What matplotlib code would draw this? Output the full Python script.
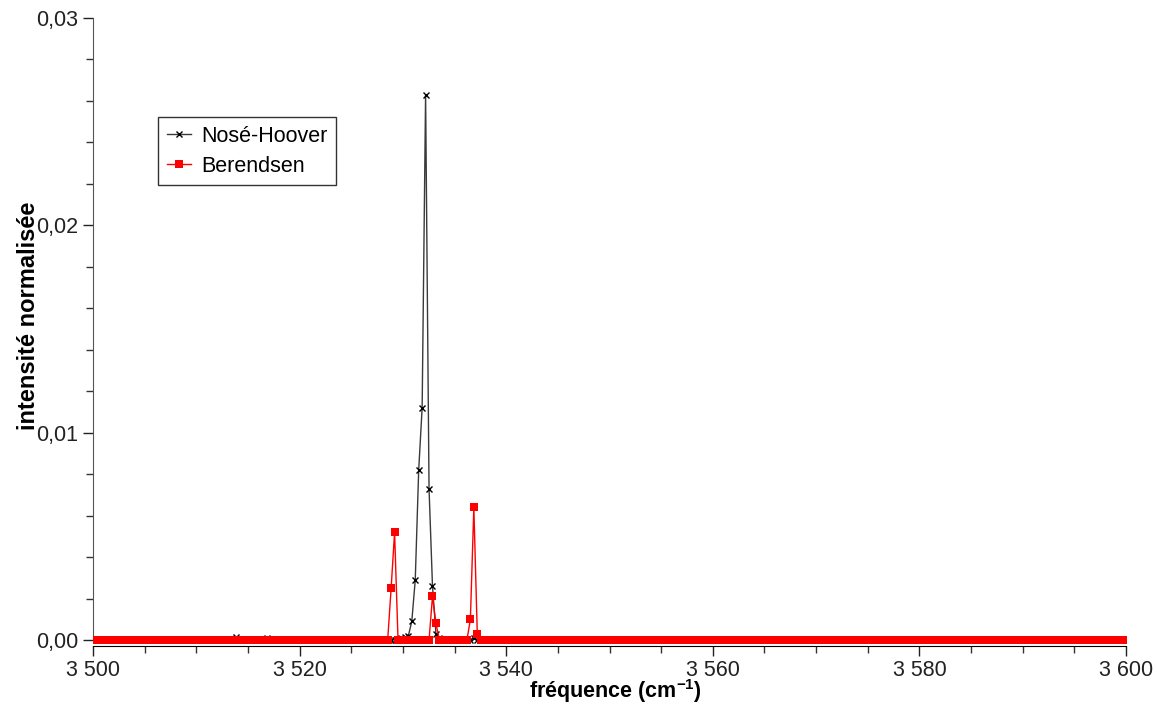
import matplotlib
matplotlib.use("Agg")
import matplotlib.pyplot as plt
import numpy as np
from matplotlib.ticker import FuncFormatter, MultipleLocator

# spectrum sampling (cm-1): regular FFT grid, 300 points
F_START = 3500.17
F_STEP = 0.3336
N_POINTS = 300

# Nosé-Hoover: grid index -> intensity, everything else is 0
nh_idx = [41, 50, 89, 90, 91, 92, 93, 94, 95, 96, 97, 98, 99, 100, 110]
nh_val = [0.00015, 0.0001, 0.0001, 0.00015, 0.0002, 0.0009, 0.0029, 0.0082,
          0.0112, 0.0263, 0.0073, 0.0026, 0.0003, 0.0001, 0.0001]

# Berendsen
ber_idx = [86, 87, 98, 99, 109, 110, 111]
ber_val = [0.0025, 0.0052, 0.0021, 0.0008, 0.0010, 0.0064, 0.0003]

freq = F_START + F_STEP * np.arange(N_POINTS)
nh = np.zeros(N_POINTS)
nh[nh_idx] = nh_val
ber = np.zeros(N_POINTS)
ber[ber_idx] = ber_val

plt.rcParams["font.family"] = ["Liberation Sans", "DejaVu Sans"]
plt.rcParams["mathtext.fontset"] = "custom"
plt.rcParams["mathtext.rm"] = "Liberation Sans:bold"
plt.rcParams["mathtext.bf"] = "Liberation Sans:bold"

fig = plt.figure(figsize=(11.57, 7.06), dpi=100)
ax = fig.add_axes([0.0804, 0.085, 0.8928, 0.8895])

ax.plot(freq, nh, color="#3a3a3a", lw=1.0, marker="x", ms=5, mew=1.0,
        mec="black", label="Nosé-Hoover", zorder=2)
ax.plot(freq, ber, color="#ff0000", lw=1.0, marker="s", ms=5.6, mew=0,
        label="Berendsen", zorder=3)

ax.set_xlim(3500, 3600)
ax.set_ylim(-0.00029, 0.03)

ax.xaxis.set_major_locator(MultipleLocator(20))
ax.xaxis.set_minor_locator(MultipleLocator(5))
ax.yaxis.set_major_locator(MultipleLocator(0.01))
ax.yaxis.set_minor_locator(MultipleLocator(0.002))
ax.xaxis.set_major_formatter(FuncFormatter(lambda v, p: f"{int(round(v)):,}".replace(",", " ")))
ax.yaxis.set_major_formatter(FuncFormatter(lambda v, p: f"{v:.2f}".replace(".", ",")))

for s in ["top", "right"]:
    ax.spines[s].set_visible(False)
ax.spines["left"].set_bounds(0, 0.03)
ax.spines["left"].set_color("#555555")
ax.spines["bottom"].set_color("black")

ax.tick_params(which="major", length=7, width=1, labelsize=15.5, colors="#222222")
ax.tick_params(which="minor", length=5, width=1, colors="#333333")
ax.tick_params(axis="x", pad=3)

ax.set_xlabel("fréquence (cm$^{\\mathregular{-1}}$)", fontsize=15.5, fontweight="bold")
ax.xaxis.set_label_coords(0.506, -0.05)
ax.set_ylabel("intensité normalisée", fontsize=17, fontweight="bold")
ax.yaxis.set_label_coords(-0.0515, 0.525)

leg = ax.legend(loc="upper left", bbox_to_anchor=(0.063, 0.842), fontsize=15.5,
                frameon=True, fancybox=False, edgecolor="black",
                handlelength=1.15, borderpad=0.4, labelspacing=0.42,
                handletextpad=0.45, borderaxespad=0)
leg.get_frame().set_linewidth(1.0)

fig.savefig("out.png", dpi=100)
